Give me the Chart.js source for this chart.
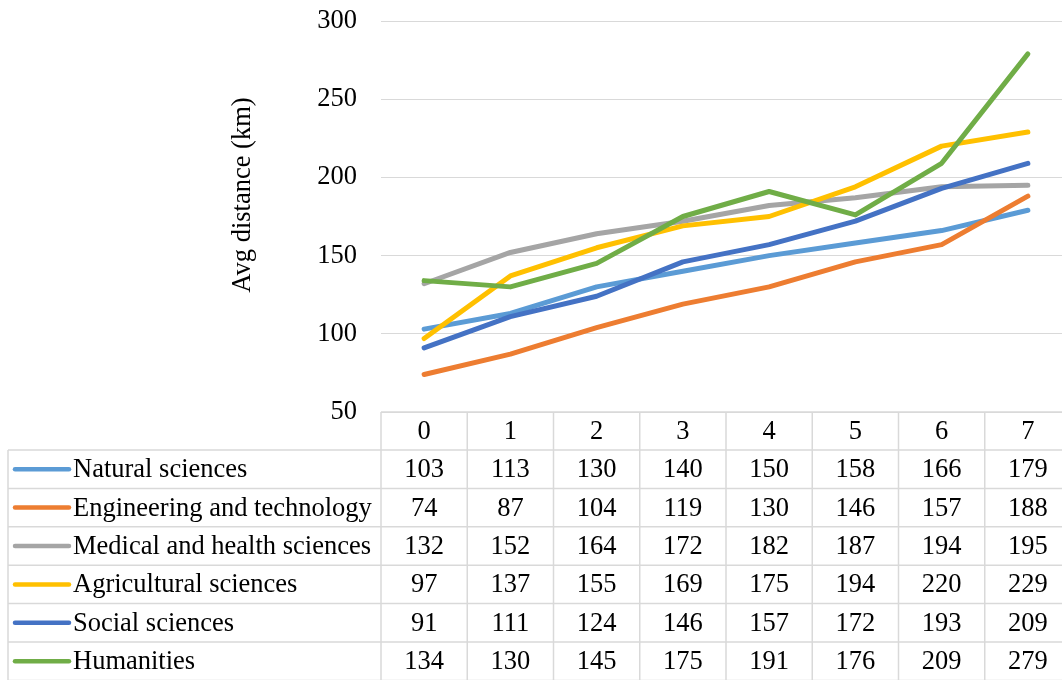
<!DOCTYPE html>
<html>
<head>
<meta charset="utf-8">
<script src="https://cdn.jsdelivr.net/npm/chart.js@4"></script>
<style>
  html, body { margin: 0; padding: 0; background: #fff; overflow: hidden; }
  #wrap { width: 1071px; height: 680px; }
</style>
</head>
<body>
<div id="wrap"><canvas id="distChart" width="1071" height="680"></canvas></div>
<script>
// Datos
const categories = ["0", "1", "2", "3", "4", "5", "6", "7"];
const seriesNames = ["Natural sciences", "Engineering and technology", "Medical and health sciences",
  "Agricultural sciences", "Social sciences", "Humanities"];
const natural = [103, 113, 130, 140, 150, 158, 166, 179];
const engineering = [74, 87, 104, 119, 130, 146, 157, 188];
const medical = [132, 152, 164, 172, 182, 187, 194, 195];
const agricultural = [97, 137, 155, 169, 175, 194, 220, 229];
const social = [91, 111, 124, 146, 157, 172, 193, 209];
const humanities = [134, 130, 145, 175, 191, 176, 209, 279];
const yTicks = [50, 100, 150, 200, 250, 300];
const yTitle = "Avg distance (km)";

const colors = ["#5B9BD5", "#ED7D31", "#A5A5A5", "#FFC000", "#4472C4", "#70AD47"];
const allSeries = [natural, engineering, medical, agricultural, social, humanities];
const FONT = "Liberation Serif, 'Times New Roman', serif";
const FSIZE = 26.5;

// tabla de datos debajo del grafico
const tablePlugin = {
  id: "dataTable",
  afterDraw(chart) {
    const ctx = chart.ctx;
    const x = chart.scales.x;
    const area = chart.chartArea;
    const step = x.getPixelForValue(1) - x.getPixelForValue(0);
    const top = area.bottom;
    const headH = 38;
    const rowH = 38.4;
    const labelLeft = 8;
    const colLeft = area.left;
    const right = x.getPixelForValue(categories.length - 1) + step / 2;
    const bottom = top + headH + rowH * seriesNames.length;

    ctx.save();
    ctx.strokeStyle = "#d9d9d9";
    ctx.lineWidth = 1.5;
    ctx.beginPath();
    ctx.moveTo(colLeft, top); ctx.lineTo(right, top);
    for (let r = 0; r <= seriesNames.length; r++) {
      const y = top + headH + r * rowH;
      ctx.moveTo(labelLeft, y); ctx.lineTo(right, y);
    }
    ctx.moveTo(labelLeft, top + headH); ctx.lineTo(labelLeft, bottom);
    for (let c = 0; c <= categories.length; c++) {
      const xx = colLeft + c * step;
      ctx.moveTo(xx, top); ctx.lineTo(xx, bottom);
    }
    ctx.stroke();

    ctx.fillStyle = "#000";
    ctx.font = FSIZE + "px " + FONT;
    ctx.textBaseline = "middle";
    ctx.textAlign = "center";
    categories.forEach((c, i) => {
      ctx.fillText(c, x.getPixelForValue(i), top + headH / 2 + 1);
    });
    allSeries.forEach((vals, r) => {
      const cy = top + headH + r * rowH + rowH / 2 + 1;
      ctx.textAlign = "center";
      vals.forEach((v, i) => ctx.fillText(String(v), x.getPixelForValue(i), cy));
      // clave de leyenda
      ctx.strokeStyle = colors[r];
      ctx.lineWidth = 4.5;
      ctx.lineCap = "round";
      ctx.beginPath();
      ctx.moveTo(15, cy - 1); ctx.lineTo(69, cy - 1);
      ctx.stroke();
      ctx.textAlign = "left";
      ctx.fillText(seriesNames[r], 73, cy);
    });

    // titulo del eje Y
    ctx.translate(243, 195);
    ctx.rotate(-Math.PI / 2);
    ctx.textAlign = "center";
    ctx.fillText(yTitle, 0, 0);
    ctx.restore();
  }
};

const ctx = document.getElementById("distChart").getContext("2d");
const myChart = new Chart(ctx, {
  type: "line",
  data: {
    labels: categories,
    datasets: allSeries.map((vals, i) => ({
      label: seriesNames[i],
      data: vals,
      borderColor: colors[i],
      backgroundColor: colors[i],
      borderWidth: 5,
      borderCapStyle: "round",
      borderJoinStyle: "round",
      pointRadius: 0,
      tension: 0,
      order: seriesNames.length - i,
    })),
  },
  options: {
    responsive: false,
    animation: false,
    devicePixelRatio: 1,
    layout: { padding: { top: 21, bottom: 268, left: 0, right: 0 } },
    plugins: { legend: { display: false }, tooltip: { enabled: false } },
    scales: {
      x: { display: false, offset: true },
      y: {
        min: 50,
        max: 300,
        afterFit: (s) => { s.width = 381; },
        afterBuildTicks: (s) => { s.ticks = yTicks.map(v => ({ value: v })); },
        ticks: { padding: 0, color: "#000", font: { family: FONT, size: FSIZE } },
        grid: { color: "#d9d9d9", lineWidth: 1, drawTicks: true, tickLength: 24, tickColor: "rgba(0,0,0,0)" },
        border: { display: false },
      }
    }
  },
  plugins: [tablePlugin]
});
</script>
</body>
</html>
